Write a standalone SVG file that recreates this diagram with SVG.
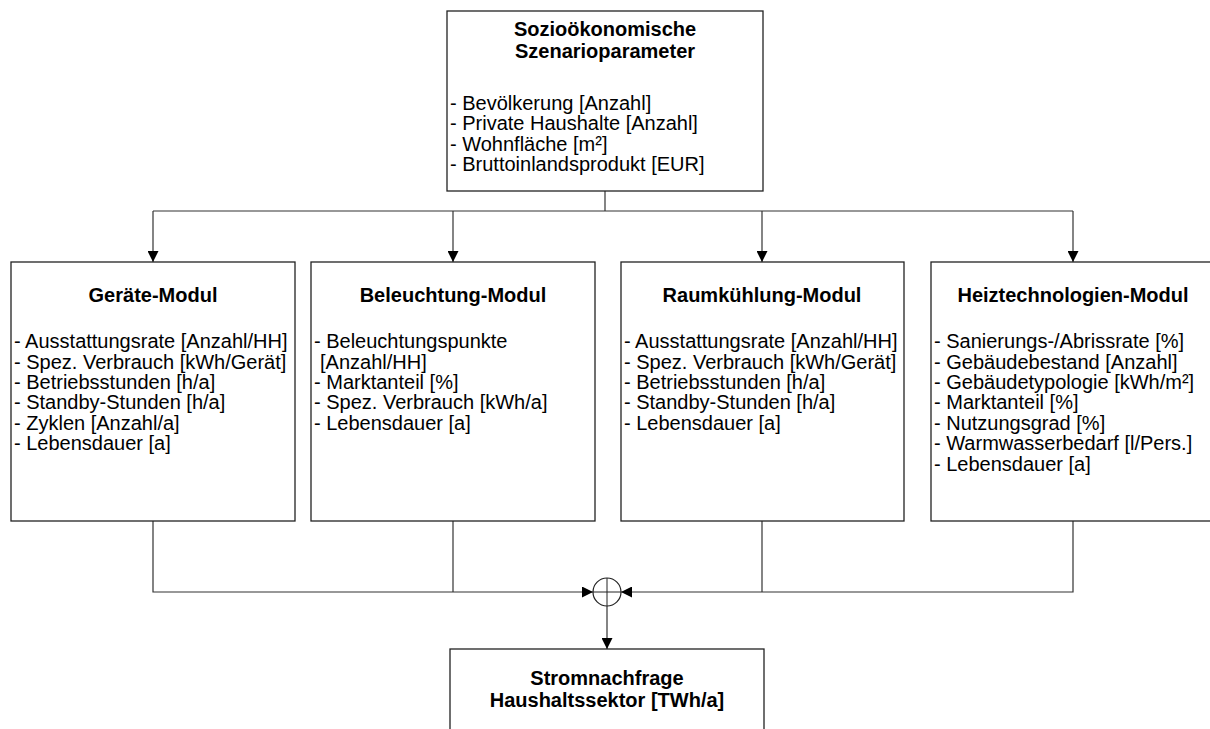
<svg xmlns="http://www.w3.org/2000/svg" width="1210" height="729" viewBox="0 0 1210 729">
<style>
.box{fill:#fff;stroke:#222;stroke-width:1.3}
.t{font-family:"Liberation Sans",Arial,sans-serif;font-size:20px;fill:#000}
.b{font-weight:bold;text-anchor:middle}
.c{fill:none;stroke:#333;stroke-width:1.2}
</style>
<defs>
<marker id="ah" viewBox="0 0 10 10" refX="10" refY="5" markerWidth="11" markerHeight="11" markerUnits="userSpaceOnUse" orient="auto">
<path d="M0,0 L10,5 L0,10 z" fill="#000"/>
</marker>
</defs>
<g id="connectors">
<path class="c" d="M605,191 V211"/>
<path class="c" d="M153,211 H1073"/>
<path class="c" d="M153,211 V262" marker-end="url(#ah)"/>
<path class="c" d="M453,211 V262" marker-end="url(#ah)"/>
<path class="c" d="M762,211 V262" marker-end="url(#ah)"/>
<path class="c" d="M1073,211 V262" marker-end="url(#ah)"/>
<path class="c" d="M153,521 V592 H593" marker-end="url(#ah)"/>
<path class="c" d="M453,521 V592"/>
<path class="c" d="M762,521 V592"/>
<path class="c" d="M1073,521 V592 H621" marker-end="url(#ah)"/>
<path class="c" d="M607,606 V649" marker-end="url(#ah)"/>
</g>
<g id="sum">
<circle cx="607" cy="592" r="14" fill="#fff" stroke="#222" stroke-width="1.2"/>
<path d="M593,592 H621 M607,578 V606" stroke="#222" stroke-width="1" fill="none"/>
</g>
<g id="node-top">
<rect class="box" x="447" y="11" width="316" height="180"/>
<text class="t b" x="605" y="36">Sozioökonomische</text>
<text class="t b" x="605" y="58">Szenarioparameter</text>
<text class="t" x="450" y="110">- Bevölkerung [Anzahl]</text>
<text class="t" x="450" y="130">- Private Haushalte [Anzahl]</text>
<text class="t" x="450" y="151">- Wohnfläche [m²]</text>
<text class="t" x="450" y="171">- Bruttoinlandsprodukt [EUR]</text>
</g>
<g id="node-geraete">
<rect class="box" x="11" y="262" width="284" height="259"/>
<text class="t b" x="153" y="302">Geräte-Modul</text>
<text class="t" x="14" y="348">- Ausstattungsrate [Anzahl/HH]</text>
<text class="t" x="14" y="369">- Spez. Verbrauch [kWh/Gerät]</text>
<text class="t" x="14" y="389">- Betriebsstunden [h/a]</text>
<text class="t" x="14" y="409">- Standby-Stunden [h/a]</text>
<text class="t" x="14" y="430">- Zyklen [Anzahl/a]</text>
<text class="t" x="14" y="450">- Lebensdauer [a]</text>
</g>
<g id="node-beleuchtung">
<rect class="box" x="311" y="262" width="284" height="259"/>
<text class="t b" x="453" y="302">Beleuchtung-Modul</text>
<text class="t" x="314" y="348">- Beleuchtungspunkte</text>
<text class="t" x="320" y="369">[Anzahl/HH]</text>
<text class="t" x="314" y="389">- Marktanteil [%]</text>
<text class="t" x="314" y="409">- Spez. Verbrauch [kWh/a]</text>
<text class="t" x="314" y="430">- Lebensdauer [a]</text>
</g>
<g id="node-raumkuehlung">
<rect class="box" x="621" y="262" width="283" height="259"/>
<text class="t b" x="762" y="302">Raumkühlung-Modul</text>
<text class="t" x="624" y="348">- Ausstattungsrate [Anzahl/HH]</text>
<text class="t" x="624" y="369">- Spez. Verbrauch [kWh/Gerät]</text>
<text class="t" x="624" y="389">- Betriebsstunden [h/a]</text>
<text class="t" x="624" y="409">- Standby-Stunden [h/a]</text>
<text class="t" x="624" y="430">- Lebensdauer [a]</text>
</g>
<g id="node-heiz">
<rect class="box" x="931" y="262" width="290" height="259"/>
<text class="t b" x="1073" y="302">Heiztechnologien-Modul</text>
<text class="t" x="934" y="348">- Sanierungs-/Abrissrate [%]</text>
<text class="t" x="934" y="369">- Gebäudebestand [Anzahl]</text>
<text class="t" x="934" y="389">- Gebäudetypologie [kWh/m²]</text>
<text class="t" x="934" y="409">- Marktanteil [%]</text>
<text class="t" x="934" y="430">- Nutzungsgrad [%]</text>
<text class="t" x="934" y="450">- Warmwasserbedarf [l/Pers.]</text>
<text class="t" x="934" y="471">- Lebensdauer [a]</text>
</g>
<g id="node-strom">
<rect class="box" x="450" y="649" width="314" height="100"/>
<text class="t b" x="607" y="685">Stromnachfrage</text>
<text class="t b" x="607" y="707">Haushaltssektor [TWh/a]</text>
</g>
</svg>
